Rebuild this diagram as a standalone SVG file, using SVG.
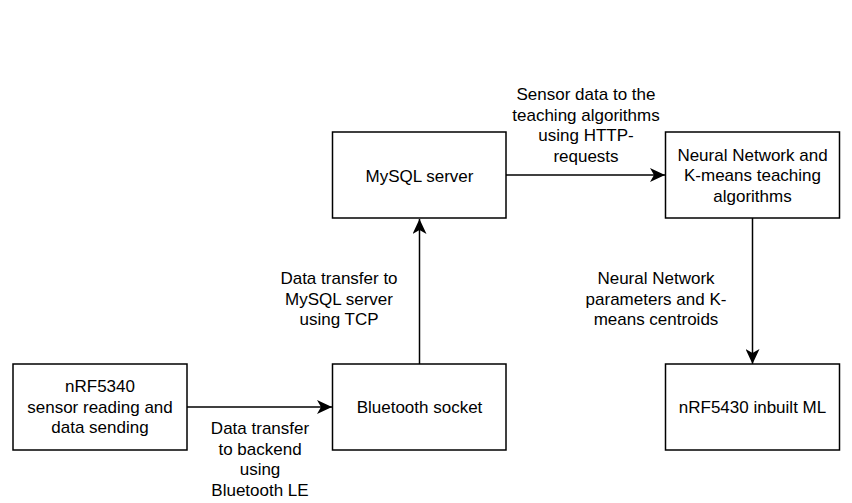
<svg xmlns="http://www.w3.org/2000/svg" width="852" height="503" viewBox="0 0 852 503">
<style>
.box{fill:#fff;stroke:#000;stroke-width:1.5}
.edge{fill:none;stroke:#000;stroke-width:1.5}
text{font-family:"Liberation Sans",Arial,sans-serif;font-size:17px;fill:#000;text-anchor:middle}
</style>
<defs>
<marker id="arrow" viewBox="0 0 16 14" refX="15" refY="7" markerWidth="16" markerHeight="14" markerUnits="userSpaceOnUse" orient="auto">
<path d="M0,0 L15,7 L0,14 L4,7 Z" fill="#000"/>
</marker>
</defs>
<rect width="852" height="503" fill="#fff"/>
<g id="connectors">
<path class="edge" d="M187,407 L332,407" marker-end="url(#arrow)"/>
<path class="edge" d="M419.5,364 L419.5,219" marker-end="url(#arrow)"/>
<path class="edge" d="M506,175 L665,175" marker-end="url(#arrow)"/>
<path class="edge" d="M752.5,218 L752.5,364" marker-end="url(#arrow)"/>
<text x="260" y="434">Data transfer</text>
<text x="260" y="454.5">to backend</text>
<text x="260" y="475">using</text>
<text x="260" y="495.5">Bluetooth LE</text>
<text x="339" y="284">Data transfer to</text>
<text x="339" y="304.5">MySQL server</text>
<text x="339" y="325">using TCP</text>
<text x="586" y="100">Sensor data to the</text>
<text x="586" y="120.5">teaching algorithms</text>
<text x="586" y="141">using HTTP-</text>
<text x="586" y="161.5">requests</text>
<text x="656" y="284">Neural Network</text>
<text x="656" y="304.5">parameters and K-</text>
<text x="656" y="325">means centroids</text>
</g>
<g id="node-nrf5340">
<rect class="box" x="13" y="364" width="174" height="86"/>
<text x="100" y="392">nRF5340</text>
<text x="100" y="412.5">sensor reading and</text>
<text x="100" y="433">data sending</text>
</g>
<g id="node-bluetooth">
<rect class="box" x="332.5" y="364" width="173.5" height="86"/>
<text x="419.5" y="413">Bluetooth socket</text>
</g>
<g id="node-mysql">
<rect class="box" x="332.5" y="132" width="173.5" height="86"/>
<text x="419.5" y="181.5">MySQL server</text>
</g>
<g id="node-nn">
<rect class="box" x="665.5" y="132" width="174" height="86"/>
<text x="752.5" y="160.5">Neural Network and</text>
<text x="752.5" y="181">K-means teaching</text>
<text x="752.5" y="201.5">algorithms</text>
</g>
<g id="node-ml">
<rect class="box" x="665.5" y="364" width="174" height="86"/>
<text x="752.5" y="413">nRF5430 inbuilt ML</text>
</g>
</svg>
